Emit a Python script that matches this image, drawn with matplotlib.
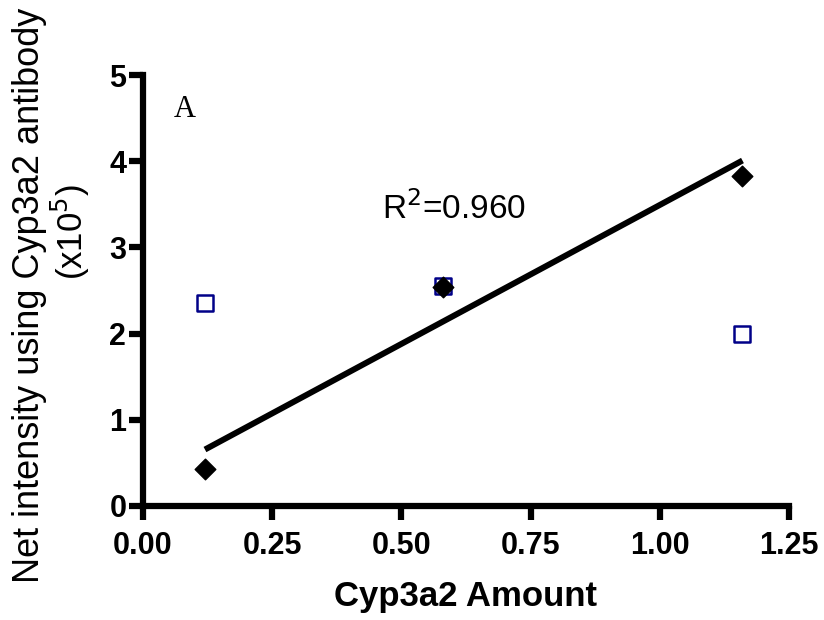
import numpy as np
import matplotlib
matplotlib.use('Agg')
import matplotlib.pyplot as plt

# Cyp3a2 amount vs net intensity (x10^5)
amount = [0.12, 0.58, 1.16]
intensity_filled = [0.43, 2.54, 3.83]
intensity_open = [2.35, 2.55, 2.00]
x_ticks = [0.00, 0.25, 0.50, 0.75, 1.00, 1.25]
y_ticks = [0, 1, 2, 3, 4, 5]

plt.rcParams['font.family'] = ['Liberation Sans', 'DejaVu Sans']

fig = plt.figure(figsize=(8.24, 6.20), dpi=100)
ax = fig.add_axes([0.1735, 0.184, 0.784, 0.695])

# regression line through filled points
slope, icpt = np.polyfit(amount, intensity_filled, 1)
xs = np.array([min(amount), max(amount)])
ax.plot(xs, slope * xs + icpt, color='black', lw=4.3, solid_capstyle='butt',
        zorder=2, clip_on=False)

ax.scatter(amount, intensity_open, marker='s', s=130, facecolor='white',
           edgecolor='#000088', linewidths=1.8, zorder=3, clip_on=False)
ax.scatter(amount, intensity_filled, marker='D', s=110, color='black',
           zorder=4, clip_on=False)

ax.set_xlim(0, 1.25)
ax.set_ylim(0, 5)
ax.set_xticks(x_ticks)
ax.set_xticklabels(['%.2f' % v for v in x_ticks])
ax.set_yticks(y_ticks)

for s in ['top', 'right']:
    ax.spines[s].set_visible(False)
for s in ['left', 'bottom']:
    ax.spines[s].set_linewidth(4.5)
ax.tick_params(direction='out', length=10, width=4.5, labelsize=22, pad=2)
ax.tick_params(axis='x', pad=8)
for lab in ax.get_xticklabels() + ax.get_yticklabels():
    lab.set_fontweight('bold')

ax.set_xlabel('Cyp3a2 Amount', fontsize=25, fontweight='bold', labelpad=14)

fig.text(0.036, 0.524, 'Net intensity using Cyp3a2 antibody', rotation=90,
         ha='center', va='center', fontsize=26)
fig.text(0.086, 0.626, '(x10$^5$)', rotation=90, ha='center', va='center',
         fontsize=25)

ax.text(0.06, 4.6, 'A', family='Liberation Serif', fontsize=22,
        ha='left', va='center')
ax.text(0.462, 3.45, 'R$^2$=0.960', fontsize=24, ha='left', va='center')

fig.savefig('out.png', dpi=100)
